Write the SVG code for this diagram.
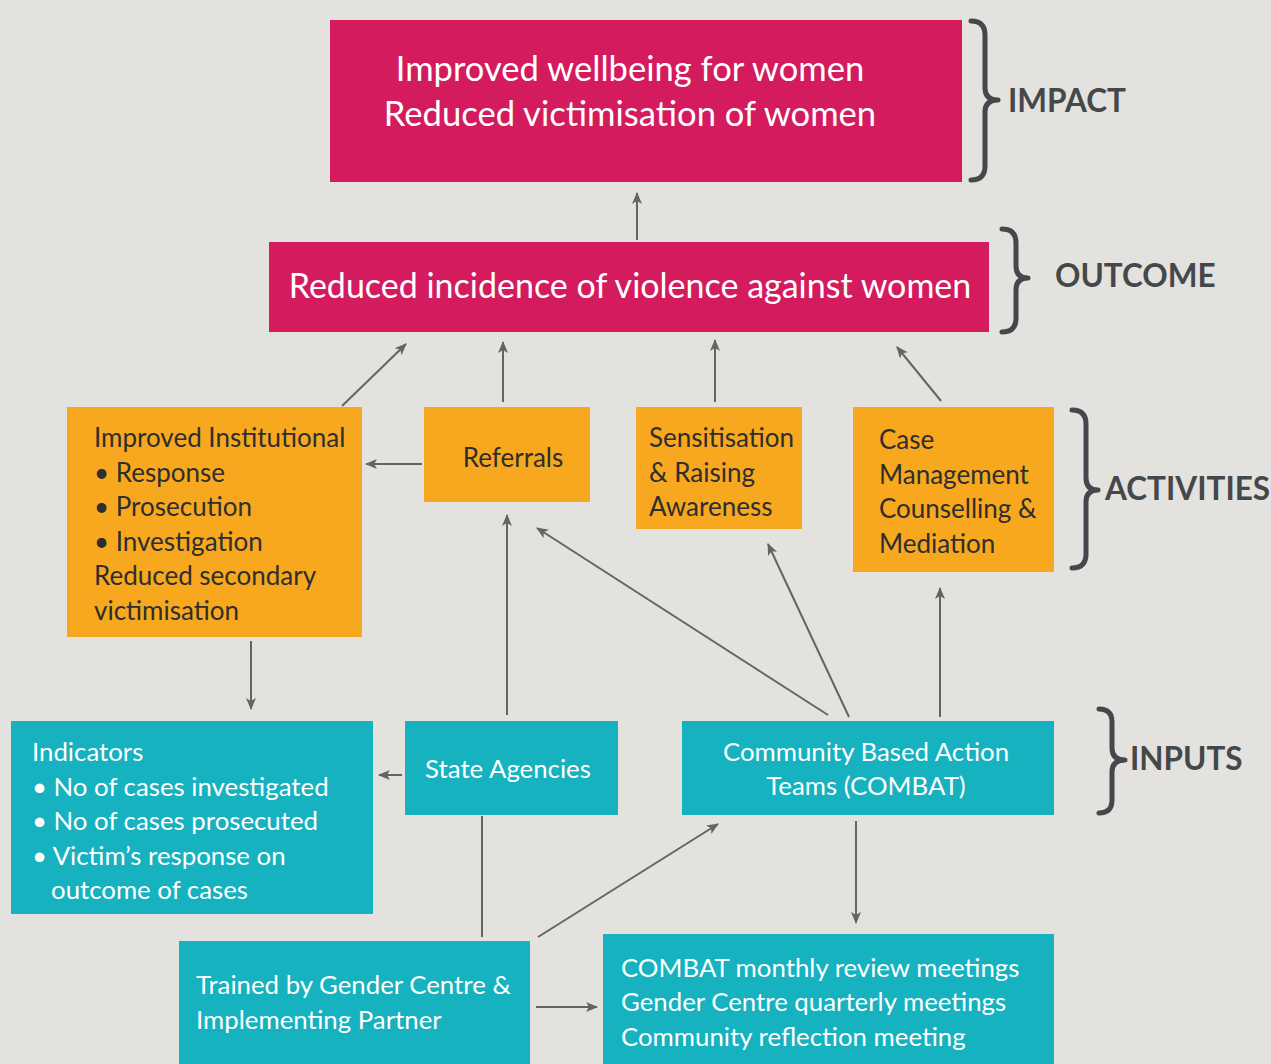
<svg xmlns="http://www.w3.org/2000/svg" width="1271" height="1064" viewBox="0 0 1271 1064">
<defs>
<marker id="ah" viewBox="0 0 12 10" refX="11" refY="5" markerWidth="12" markerHeight="10" markerUnits="userSpaceOnUse" orient="auto">
<path d="M0,0 L12,5 L0,10 L3,5 Z" fill="#636466"/>
</marker>
<style>
.mag{fill:#D31B5E}
.org{fill:#F7A81E}
.teal{fill:#16B2BF}
.wt{fill:#FFFFFF;font-family:Lato,"Open Sans",sans-serif}
.dt{fill:#2E2E2E;font-family:Lato,"Open Sans",sans-serif}
.big{font-size:34.6px}
.big2{font-size:34px}
.mid{font-size:26px}
.sm{font-size:25.8px}
.hdr{fill:#45484A;font-family:Lato,"Open Sans",sans-serif;font-weight:bold;font-size:31.5px}
.brace{fill:none;stroke:#45484A;stroke-width:5;stroke-linecap:round;stroke-linejoin:round}
.con{fill:none;stroke:#636466;stroke-width:2}
.arr{marker-end:url(#ah)}
</style>
</defs>
<rect width="1271" height="1064" fill="#E3E2DE"/>

<g id="connectors">
<line class="con arr" x1="637" y1="240" x2="637" y2="193"/>
<line class="con arr" x1="342" y1="406" x2="406" y2="344"/>
<line class="con arr" x1="503" y1="402" x2="503" y2="342"/>
<line class="con arr" x1="715" y1="402" x2="715" y2="340"/>
<line class="con arr" x1="941" y1="401" x2="897" y2="347"/>
<line class="con arr" x1="422" y1="464" x2="366" y2="464"/>
<line class="con arr" x1="251" y1="641" x2="251" y2="709"/>
<line class="con arr" x1="402" y1="775" x2="379" y2="775"/>
<line class="con arr" x1="507" y1="715" x2="507" y2="515"/>
<line class="con arr" x1="828" y1="715" x2="537" y2="528"/>
<line class="con arr" x1="849" y1="717" x2="768" y2="544"/>
<line class="con arr" x1="940" y1="717" x2="940" y2="588"/>
<line class="con arr" x1="856" y1="821" x2="856" y2="923"/>
<line class="con" x1="482" y1="816" x2="482" y2="937"/>
<line class="con arr" x1="538" y1="937" x2="718" y2="824"/>
<line class="con arr" x1="536" y1="1007" x2="597" y2="1007"/>
</g>

<g id="impact">
<rect class="mag" x="330" y="20" width="632" height="162"/>
<text class="wt big" x="630" y="81" text-anchor="middle">Improved wellbeing for women</text>
<text class="wt big" x="630" y="126" text-anchor="middle">Reduced victimisation of women</text>
</g>

<g id="outcome">
<rect class="mag" x="269" y="242" width="720" height="90"/>
<text class="wt big2" x="630" y="298" text-anchor="middle">Reduced incidence of violence against women</text>
</g>

<g id="institutional">
<rect class="org" x="67" y="407" width="295" height="230"/>
<text class="dt mid" x="94" y="447">Improved Institutional</text>
<text class="dt mid" x="94" y="482">• Response</text>
<text class="dt mid" x="94" y="516">• Prosecution</text>
<text class="dt mid" x="94" y="551">• Investigation</text>
<text class="dt mid" x="94" y="585">Reduced secondary</text>
<text class="dt mid" x="94" y="620">victimisation</text>
</g>

<g id="referrals">
<rect class="org" x="424" y="407" width="166" height="95"/>
<text class="dt mid" x="513" y="467" text-anchor="middle">Referrals</text>
</g>

<g id="sensitisation">
<rect class="org" x="636" y="407" width="166" height="122"/>
<text class="dt mid" x="649" y="447">Sensitisation</text>
<text class="dt mid" x="649" y="482">&amp; Raising</text>
<text class="dt mid" x="649" y="516">Awareness</text>
</g>

<g id="case">
<rect class="org" x="853" y="407" width="201" height="165"/>
<text class="dt mid" x="879" y="449">Case</text>
<text class="dt mid" x="879" y="484">Management</text>
<text class="dt mid" x="879" y="518">Counselling &amp;</text>
<text class="dt mid" x="879" y="553">Mediation</text>
</g>

<g id="indicators">
<rect class="teal" x="11" y="721" width="362" height="193"/>
<text class="wt sm" x="32" y="761">Indicators</text>
<text class="wt sm" x="32" y="796">• No of cases investigated</text>
<text class="wt sm" x="32" y="830">• No of cases prosecuted</text>
<text class="wt sm" x="32" y="865">• Victim’s response on</text>
<text class="wt sm" x="51" y="899">outcome of cases</text>
</g>

<g id="state">
<rect class="teal" x="405" y="721" width="213" height="94"/>
<text class="wt sm" x="508" y="778" text-anchor="middle">State Agencies</text>
</g>

<g id="combat">
<rect class="teal" x="682" y="721" width="372" height="94"/>
<text class="wt sm" x="866" y="761" text-anchor="middle">Community Based Action</text>
<text class="wt sm" x="866" y="795" text-anchor="middle">Teams (COMBAT)</text>
</g>

<g id="trained">
<rect class="teal" x="179" y="941" width="351" height="123"/>
<text class="wt sm" x="196" y="994">Trained by Gender Centre &amp;</text>
<text class="wt sm" x="196" y="1029">Implementing Partner</text>
</g>

<g id="meetings">
<rect class="teal" x="603" y="934" width="451" height="130"/>
<text class="wt sm" x="621" y="977">COMBAT monthly review meetings</text>
<text class="wt sm" x="621" y="1011">Gender Centre quarterly meetings</text>
<text class="wt sm" x="621" y="1046">Community reflection meeting</text>
</g>

<g id="levels">
<path class="brace" d="M971,21 Q985,21 985,35 L985,88 Q985,100 998,100 Q985,100 985,112 L985,166 Q985,180 971,180"/>
<text class="hdr" x="1008" y="112">IMPACT</text>
<path class="brace" d="M1002,229 Q1016,229 1016,243 L1016,266 Q1016,278 1028,278 Q1016,278 1016,290 L1016,318 Q1016,332 1002,332"/>
<text class="hdr" x="1055" y="287">OUTCOME</text>
<path class="brace" d="M1072,410 Q1086,410 1086,424 L1086,478 Q1086,490 1098,490 Q1086,490 1086,502 L1086,554 Q1086,568 1072,568"/>
<text class="hdr" x="1105" y="500">ACTIVITIES</text>
<path class="brace" d="M1099,709 Q1112,709 1112,722 L1112,748 Q1112,760 1125,760 Q1112,760 1112,772 L1112,800 Q1112,813 1099,813"/>
<text class="hdr" x="1130" y="770">INPUTS</text>
</g>
</svg>
